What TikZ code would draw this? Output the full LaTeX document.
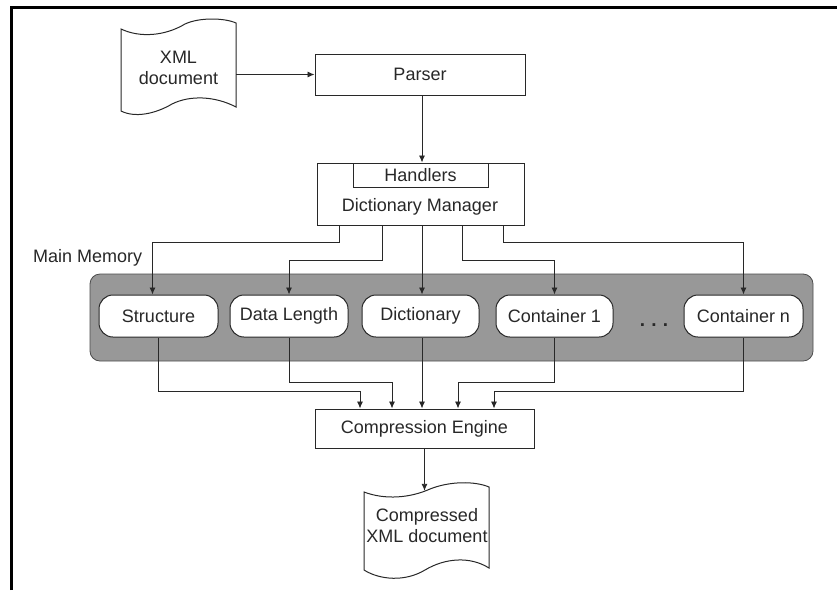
\documentclass[tikz,border=0pt]{standalone}
\usepackage{fontspec}
\setmainfont{Liberation Sans}
\usetikzlibrary{arrows.meta,calc}
\definecolor{mmgray}{RGB}{152,152,152}
\definecolor{ink}{RGB}{40,40,40}
\begin{document}
\begin{tikzpicture}[x=1pt,y=-1pt,
  every node/.style={font=\fontsize{18}{21}\selectfont, text=ink, inner sep=0pt, align=center},
  box/.style={draw=ink, line width=1pt, fill=white},
  pill/.style={draw=ink, line width=1pt, fill=white, rounded corners=14pt, minimum height=42pt},
  memarea/.style={draw=black!70, line width=0.8pt, fill=mmgray, rounded corners=10pt},
  docline/.style={draw=ink, line width=1pt},
  arr/.style={line width=0.9pt, draw=ink, -{Latex[length=7pt,width=6pt]}}]
\useasboundingbox (0,0) rectangle (837,590);
\fill[white] (0,0) rectangle (837,590);
% frame
\draw[line width=3pt] (11,590) -- (11,7) -- (837,7);

% XML document shape
\draw[docline, fill=white] (121,29) .. controls (140,38) and (165,36) .. (185,24)
  .. controls (200,17) and (225,18) .. (236,23) -- (236,107)
  .. controls (215,96) and (190,95) .. (172,104)
  .. controls (155,114) and (135,118) .. (121,111) -- cycle;
\node[minimum width=115pt, minimum height=60pt] (xml) at (178.5,68) {XML\\document};

% Parser
\node[box, minimum width=210pt, minimum height=41pt] (parser) at (420,74.5) {Parser};

% Dictionary Manager with Handlers
\node[box, minimum width=207pt, minimum height=62pt] (dm) at (420.5,194) {};
\node[box, minimum width=135pt, minimum height=24pt] (hd) at (420.5,175) {Handlers};
\node (dmlabel) at (420,207) {Dictionary Manager};

% Main memory
\node[memarea, minimum width=723pt, minimum height=87pt] (mem) at (451.5,317.5) {};
\node[anchor=west] (mmlabel) at (33,258) {Main Memory};

% Pills
\node[pill, minimum width=119pt] (st) at (158.5,316) {Structure};
\node[pill, minimum width=118pt] (dl) at (289,316) {Data Length};
\node[pill, minimum width=117pt] (di) at (420.5,316) {Dictionary};
\node[pill, minimum width=117pt] (c1) at (554.5,316) {Container 1};
\node[pill, minimum width=119pt] (cn) at (743.5,316) {Container n};
\node[font=\fontsize{19}{21}\selectfont\bfseries] (dots) at (654,325) {.\,\,.\,\,.};

% Compression engine
\node[box, minimum width=219pt, minimum height=39pt] (ce) at (424.5,428.5) {Compression Engine};

% Compressed document shape
\draw[docline, fill=white] (364,492) .. controls (385,500) and (410,498) .. (430,489)
  .. controls (450,481) and (475,481) .. (489,487) -- (489,568)
  .. controls (470,556) and (445,558) .. (425,570)
  .. controls (405,582) and (380,580) .. (364,570) -- cycle;
\node[minimum width=125pt, minimum height=70pt] (cdoc) at (427,526) {Compressed\\XML document};

% connectors
\draw[arr] (xml.east |- parser.west) -- (parser.west);
\draw[arr] ([xshift=2pt]parser.south) -- ([xshift=2pt]parser.south |- dm.north);

\draw[arr] ([xshift=-81.5pt]dm.south) -- ++(0,17) -| ([xshift=-6pt]st.north);
\draw[arr] ([xshift=-38.5pt]dm.south) -- ++(0,35) -| (dl.north);
\draw[arr] ([xshift=1.5pt]dm.south) -- ([xshift=1.5pt]dm.south |- di.north);
\draw[arr] ([xshift=42pt]dm.south) -- ++(0,35) -| (c1.north);
\draw[arr] ([xshift=82.5pt]dm.south) -- ++(0,17) -| (cn.north);

\draw[arr] (st.south) -- ++(0,54) -| ([xshift=-64.5pt]ce.north);
\draw[arr] (dl.south) -- ++(0,45) -| ([xshift=-32.5pt]ce.north);
\draw[arr] ([xshift=1.5pt]di.south) -- ([xshift=1.5pt]di.south |- ce.north);
\draw[arr] (c1.south) -- ++(0,45) -| ([xshift=33.5pt]ce.north);
\draw[arr] (cn.south) -- ++(0,54) -| ([xshift=69.5pt]ce.north);

\draw[arr] (ce.south) -- (ce.south |- cdoc.north);
\end{tikzpicture}
\end{document}
